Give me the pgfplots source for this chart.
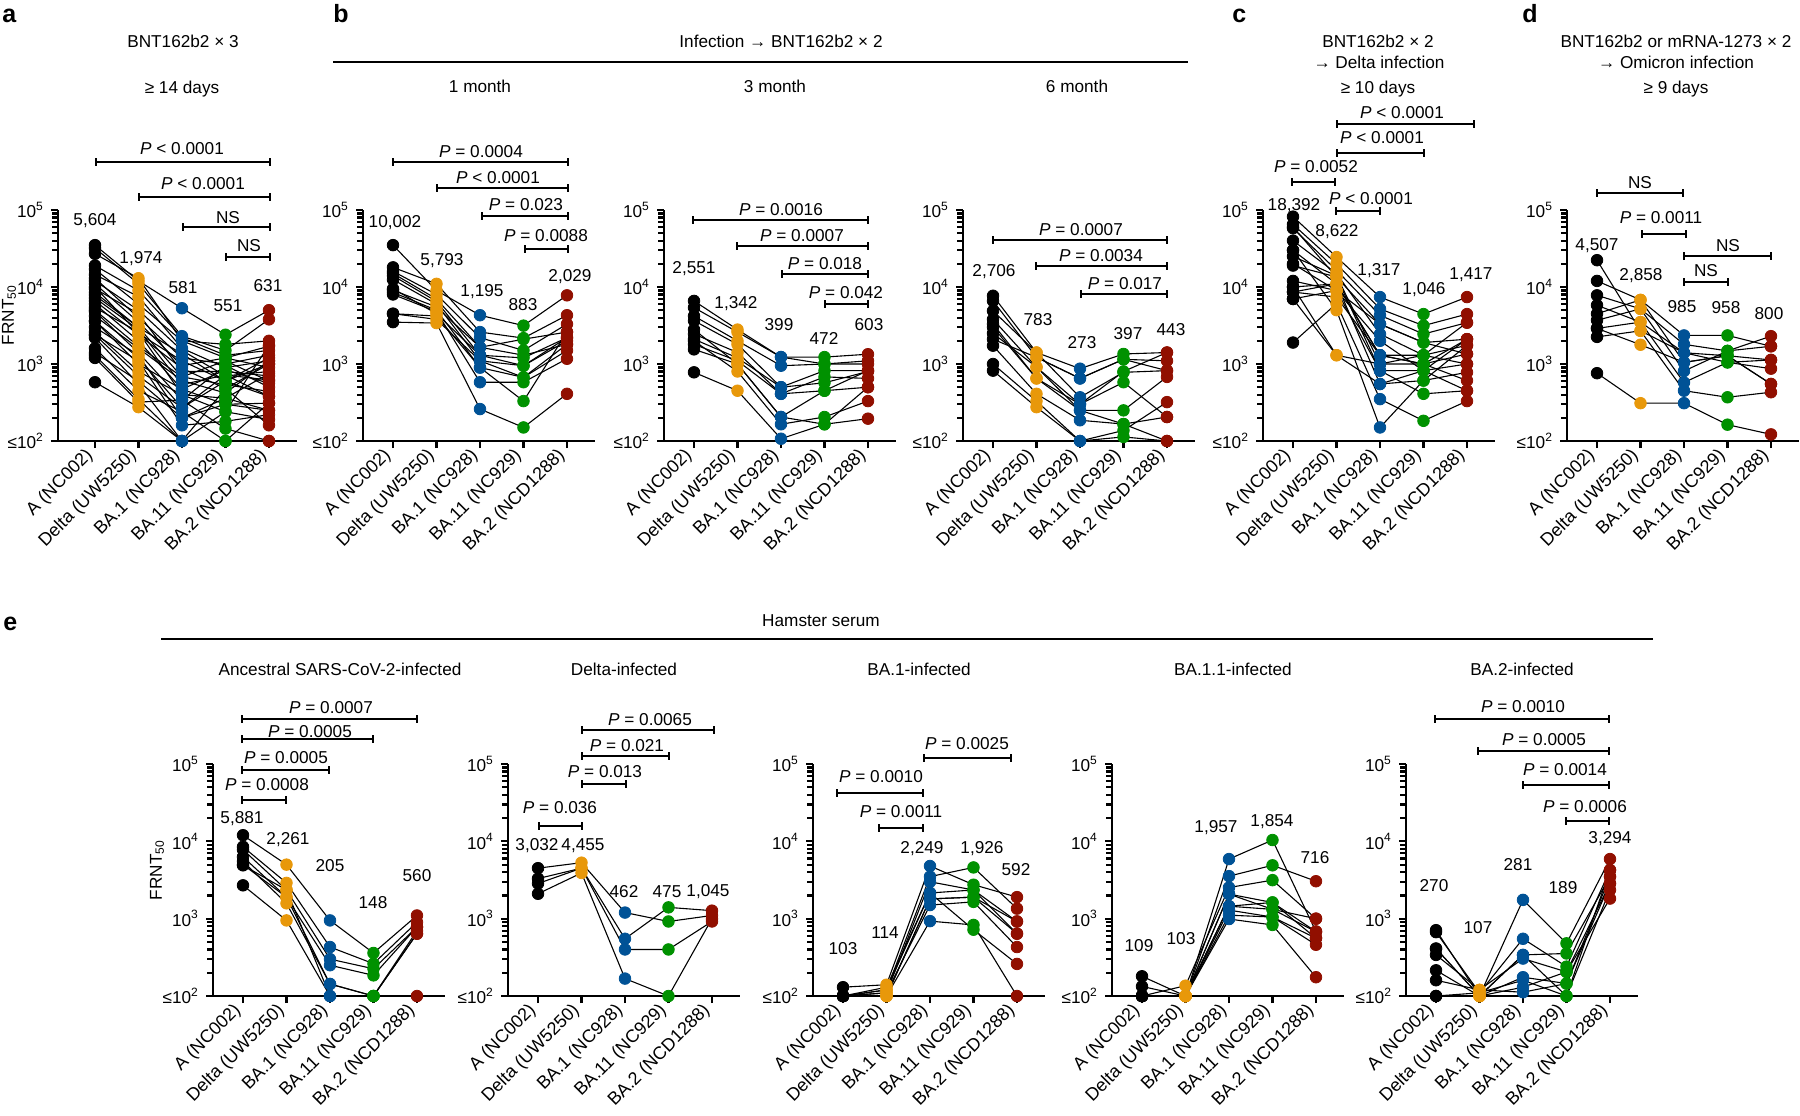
\documentclass[border=0pt]{standalone}
\usepackage{fontspec}
\setmainfont{Liberation Sans}
\usepackage{pgfplots}
\usepackage{pgfplotstable}
\pgfplotsset{compat=1.18}

\definecolor{cA}{RGB}{0,0,0}
\definecolor{cD}{RGB}{232,152,10}
\definecolor{cB}{RGB}{0,82,150}
\definecolor{cG}{RGB}{0,145,0}
\definecolor{cR}{RGB}{145,15,0}

\newcommand{\figfont}{\fontsize{8.6}{10}\selectfont}
\newcommand{\xfont}{\fontsize{9}{10}\selectfont}

\newcommand{\panel}[6]{%
\begin{semilogyaxis}[scale only axis, anchor=south west, at={(#1*0.5pt,-#2*0.5pt)},
    xmin=#3, xmax=4.64, width=#4, height=#5,
    ymin=100, ymax=100000,
    axis lines=left, axis line style={line width=1.1pt, -},
    xtick={0,1,2,3,4},
    xticklabels={A (NC002), Delta (UW5250), BA.1 (NC928), BA.11 (NC929), BA.2 (NCD1288)},
    ytick={100,1000,10000,100000},
    yticklabels={≤10\textsuperscript{2}, 10\textsuperscript{3}, 10\textsuperscript{4}, 10\textsuperscript{5}},
    tick align=outside, major tick length=3.5pt,
    tick style={black, line width=1.1pt},
    yticklabel style={font=\figfont},
    xticklabel style={font=\xfont, rotate=45, anchor=east},
    clip=false]
#6
\end{semilogyaxis}}

\newcommand{\drawsubj}[2]{%
  \pgfplotsinvokeforeach{1,...,#2}{\addplot[black, line width=0.55pt, mark=none, forget plot] table[x expr=\coordindex, y index=##1]{#1};}}
\newcommand{\drawdots}[1]{%
  \addplot[only marks, mark=*, mark size=2.9pt, forget plot, cA] table[x expr=0, y=A]{#1};
  \addplot[only marks, mark=*, mark size=2.9pt, forget plot, cD] table[x expr=1, y=D]{#1};
  \addplot[only marks, mark=*, mark size=2.9pt, forget plot, cB] table[x expr=2, y=Ba]{#1};
  \addplot[only marks, mark=*, mark size=2.9pt, forget plot, cG] table[x expr=3, y=Bb]{#1};
  \addplot[only marks, mark=*, mark size=2.9pt, forget plot, cR] table[x expr=4, y=Bc]{#1};}
\newcommand{\lbl}[3]{\node[anchor=base, font=\figfont, inner sep=0pt] at (#1,#2) {#3};}
\newcommand{\brk}[3]{\draw[line width=1pt] (#1,#3-4) -- (#1,#3+4) (#1,#3) -- (#2,#3) (#2,#3-4) -- (#2,#3+4);}
\newcommand{\Pe}{\textit{P} = }
\newcommand{\Pl}{\textit{P} < }

\pgfplotstableread{
A D Ba Bb Bc
35000 12000 5300 2400 5000
32000 11000 2300 1500 3800
27000 13000 2000 1800 2000
19000 9000 2200 1300 1500
17000 6000 2000 1200 1700
14500 7500 1600 900 1100
13000 4000 1200 1000 1300
12000 5000 1500 700 800
11000 3500 950 1200 900
10000 2500 1100 600 1000
9500 4500 800 800 700
8500 3000 680 1100 600
7800 3000 1350 600 1200
7200 2800 540 720 620
6600 2400 880 480 1000
6000 2000 470 840 560
5400 2600 400 360 750
5000 1700 680 540 440
4800 1400 340 960 500
4200 1600 610 420 1100
3600 1200 270 600 380
3600 1000 470 300 310
3000 1300 200 360 250
2600 800 400 240 1750
2400 700 270 720 380
2400 1100 160 180 220
2200 550 100 240 190
1600 450 240 100 310
1300 350 100 480 160
1200 320 340 145 100
580 275 100 100 100
1400 600 200 300 250
}\tA
\pgfplotstableread{
A D Ba Bb Bc
35000 9000 4300 3150 7800
18000 11000 2600 2170 4300
16000 8000 2200 1500 3300
15000 7000 1650 2100 2600
14000 6500 1300 1200 2200
12500 6000 1100 950 2000
9100 5500 1650 1300 1800
8500 5000 900 670 1500
9500 4500 1300 950 2200
8000 4800 580 580 1170
4500 3800 1100 670 1800
4500 4200 900 330 2600
3500 3400 260 150 410
}\tBa
\pgfplotstableread{
A D Ba Bb Bc
6600 2800 1230 1230 1340
5400 2600 1230 1000 1100
4200 2000 950 1000 1000
3650 1800 500 820 820
2450 1410 410 680 650
2100 1200 500 570 800
1800 1100 410 450 820
1550 1000 205 450 500
2000 800 165 205 330
780 450 107 165 195
2800 1000 205 165 500
}\tBb
\pgfplotstableread{
A D Ba Bb Bc
7700 1410 870 1350 1410
6600 1220 650 1150 1100
4900 1410 370 780 820
3800 910 300 800 1410
3300 650 250 250 680
2100 1220 650 1150 820
1730 410 186 166 205
1000 330 100 137 320
820 275 100 113 100
3000 650 300 580 205
2500 910 250 166 100
}\tBc
\pgfplotstableread{
A D Ba Bb Bc
82000 24500 7400 4450 7400
65000 20000 5200 3150 4450
58000 16500 4300 2450 3450
60000 13500 3300 1900 2100
40000 15000 2450 1300 1750
30000 11000 1300 1000 1350
25000 14000 1000 1000 2100
19000 13500 820 820 1000
12000 9000 3300 1900 1350
10000 11000 550 610 780
8600 11000 1300 1000 610
7000 9000 820 410 450
1900 6100 350 183 330
10000 1300 1000 1300 1000
8600 7400 1300 1300 3450
30000 5000 150 610 1750
20000 9000 2000 820 2100
7000 1300 550 820 450
}\tC
\pgfplotstableread{
A D Ba Bb Bc
22300 2700 1400 1280 1130
12000 6800 2350 2350 1700
7800 5200 1800 1480 2300
5800 3500 1400 1050 870
4500 6800 1050 1280 550
3700 5200 810 1480 1700
2900 3500 575 1050 1130
2250 2700 450 370 430
760 310 310 163 122
2900 1780 1050 1280 550
}\tD
\pgfplotstableread{
A D Ba Bb Bc
12000 5000 950 360 1100
8500 2900 430 262 900
7800 2350 300 225 780
6300 1900 250 185 780
5500 1580 143 100 640
4900 2350 100 100 700
2700 950 100 100 100
5000 1900 143 100 640
}\tEa
\pgfplotstableread{
A D Ba Bb Bc
4500 5300 1200 920 1100
3300 4500 550 1400 1270
2850 4500 400 400 920
2100 3900 168 100 1000
}\tEb
\pgfplotstableread{
A D Ba Bb Bc
130 140 4800 2750 1900
100 120 3500 4600 1350
100 110 3000 2350 920
100 130 2150 2350 640
100 100 1800 1900 920
100 110 1500 1650 430
100 100 930 830 100
100 120 2150 720 260
100 100 1800 1900 640
}\tEc
\pgfplotstableread{
A D Ba Bb Bc
180 100 5900 10400 680
133 100 3550 4900 3050
100 136 2530 3150 1000
100 100 2080 1620 560
100 100 2080 1320 1000
100 100 1450 1320 680
100 100 1290 1050 560
100 100 1110 1050 460
100 100 990 830 175
100 100 1450 1620 680
}\tEd
\pgfplotstableread{
A D Ba Bb Bc
710 100 1750 480 5900
670 110 550 240 4250
410 100 340 355 3500
340 120 305 205 2850
215 100 175 145 3500
100 110 160 100 2350
410 100 130 205 1820
160 120 112 145 2850
100 100 340 100 4250
}\tEe
\pgfplotstabletranspose{\tAT}{\tA}
\pgfplotstabletranspose{\tBaT}{\tBa}
\pgfplotstabletranspose{\tBbT}{\tBb}
\pgfplotstabletranspose{\tBcT}{\tBc}
\pgfplotstabletranspose{\tCT}{\tC}
\pgfplotstabletranspose{\tDT}{\tD}
\pgfplotstabletranspose{\tEaT}{\tEa}
\pgfplotstabletranspose{\tEbT}{\tEb}
\pgfplotstabletranspose{\tEcT}{\tEc}
\pgfplotstabletranspose{\tEdT}{\tEd}
\pgfplotstabletranspose{\tEeT}{\tEe}

\begin{document}%
\begin{tikzpicture}[x=0.5pt, y=-0.5pt]

% ---------- top row ----------
\panel{58}{441}{-0.85}{119.4pt}{115.5pt}{\drawsubj{\tAT}{32}\drawdots{\tA}}
\panel{363}{441}{-0.69}{115.9pt}{115.5pt}{\drawsubj{\tBaT}{13}\drawdots{\tBa}}
\panel{664}{441}{-0.69}{115.9pt}{115.5pt}{\drawsubj{\tBbT}{11}\drawdots{\tBb}}
\panel{963}{441}{-0.69}{115.9pt}{115.5pt}{\drawsubj{\tBcT}{11}\drawdots{\tBc}}
\panel{1263}{441}{-0.69}{115.9pt}{115.5pt}{\drawsubj{\tCT}{18}\drawdots{\tC}}
\panel{1567}{441}{-0.69}{115.9pt}{115.5pt}{\drawsubj{\tDT}{10}\drawdots{\tD}}

% ---------- bottom row ----------
\panel{213}{996}{-0.69}{115.9pt}{116pt}{\drawsubj{\tEaT}{8}\drawdots{\tEa}}
\panel{508}{996}{-0.69}{115.9pt}{116pt}{\drawsubj{\tEbT}{4}\drawdots{\tEb}}
\panel{813}{996}{-0.69}{115.9pt}{116pt}{\drawsubj{\tEcT}{9}\drawdots{\tEc}}
\panel{1112}{996}{-0.69}{115.9pt}{116pt}{\drawsubj{\tEdT}{10}\drawdots{\tEd}}
\panel{1406}{996}{-0.69}{115.9pt}{116pt}{\drawsubj{\tEeT}{9}\drawdots{\tEe}}

% ---------- panel letters ----------
\foreach \l/\x/\y in {a/2/22, b/333/22, c/1232/22, d/1522/22, e/3/630}
  \node[anchor=base west, inner sep=0pt, font=\fontsize{12.5}{14}\selectfont\bfseries] at (\x,\y) {\l};

% ---------- y labels ----------
\node[rotate=90, font=\figfont, inner sep=0pt] at (9,315) {FRNT\textsubscript{50}};
\node[rotate=90, font=\figfont, inner sep=0pt] at (157,870) {FRNT\textsubscript{50}};

% ---------- panel a ----------
\lbl{183}{47}{BNT162b2 × 3}
\lbl{182}{93}{≥ 14 days}
\brk{96}{270}{162}\lbl{182}{154}{\Pl0.0001}
\brk{139}{270}{197}\lbl{203}{189}{\Pl0.0001}
\brk{183}{270}{227}\lbl{228}{223}{NS}
\brk{226}{270}{257}\lbl{249}{251}{NS}
\lbl{95}{225}{5,604}\lbl{141}{263}{1,974}\lbl{183}{293}{581}\lbl{228}{311}{551}\lbl{268}{291}{631}

% ---------- panel b ----------
\lbl{781}{47}{Infection → BNT162b2 × 2}
\draw[line width=0.9pt] (333,62) -- (1188,62);
\lbl{480}{92}{1 month}\lbl{775}{92}{3 month}\lbl{1077}{92}{6 month}
\brk{393}{568}{162}\lbl{481}{157}{\Pe0.0004}
\brk{437}{568}{188}\lbl{498}{183}{\Pl0.0001}
\brk{482}{568}{216}\lbl{526}{210}{\Pe0.023}
\brk{525}{568}{249}\lbl{546}{241}{\Pe0.0088}
\lbl{395}{227}{10,002}\lbl{442}{265}{5,793}\lbl{482}{296}{1,195}\lbl{523}{310}{883}\lbl{570}{281}{2,029}
\brk{693}{868}{220}\lbl{781}{215}{\Pe0.0016}
\brk{737}{868}{246}\lbl{802}{241}{\Pe0.0007}
\brk{782}{868}{274}\lbl{825}{269}{\Pe0.018}
\brk{825}{868}{304}\lbl{846}{298}{\Pe0.042}
\lbl{694}{273}{2,551}\lbl{736}{308}{1,342}\lbl{779}{330}{399}\lbl{824}{344}{472}\lbl{869}{330}{603}
\brk{993}{1167}{240}\lbl{1081}{235}{\Pe0.0007}
\brk{1036}{1167}{266}\lbl{1101}{261}{\Pe0.0034}
\brk{1081}{1167}{294}\lbl{1125}{289}{\Pe0.017}
\lbl{994}{276}{2,706}\lbl{1038}{325}{783}\lbl{1082}{348}{273}\lbl{1128}{339}{397}\lbl{1171}{335}{443}

% ---------- panel c ----------
\lbl{1378}{47}{BNT162b2 × 2}
\lbl{1379}{68}{→ Delta infection}
\lbl{1378}{93}{≥ 10 days}
\brk{1337}{1474}{124}\lbl{1402}{118}{\Pl0.0001}
\brk{1337}{1424}{153}\lbl{1382}{143}{\Pl0.0001}
\brk{1292}{1335}{182}\lbl{1316}{172}{\Pe0.0052}
\brk{1336}{1380}{211}\lbl{1371}{204}{\Pl0.0001}
\lbl{1294}{210}{18,392}\lbl{1337}{236}{8,622}\lbl{1379}{275}{1,317}\lbl{1424}{294}{1,046}\lbl{1471}{279}{1,417}

% ---------- panel d ----------
\lbl{1676}{47}{BNT162b2 or mRNA-1273 × 2}
\lbl{1676}{68}{→ Omicron infection}
\lbl{1676}{93}{≥ 9 days}
\brk{1597}{1683}{193}\lbl{1640}{188}{NS}
\brk{1642}{1686}{234}\lbl{1661}{223}{\Pe0.0011}
\brk{1684}{1771}{256}\lbl{1728}{251}{NS}
\brk{1684}{1728}{282}\lbl{1706}{276}{NS}
\lbl{1597}{250}{4,507}\lbl{1641}{280}{2,858}\lbl{1682}{312}{985}\lbl{1726}{313}{958}\lbl{1769}{319}{800}

% ---------- panel e ----------
\lbl{821}{626}{Hamster serum}
\draw[line width=0.9pt] (161,639) -- (1653,639);
\lbl{340}{675}{Ancestral SARS-CoV-2-infected}
\lbl{624}{675}{Delta-infected}
\lbl{919}{675}{BA.1-infected}
\lbl{1233}{675}{BA.1.1-infected}
\lbl{1522}{675}{BA.2-infected}
\brk{242}{417}{719}\lbl{331}{713}{\Pe0.0007}
\brk{242}{373}{739}\lbl{310}{737}{\Pe0.0005}
\brk{242}{329}{770}\lbl{286}{763}{\Pe0.0005}
\brk{242}{286}{800}\lbl{267}{790}{\Pe0.0008}
\lbl{242}{823}{5,881}\lbl{288}{844}{2,261}\lbl{330}{871}{205}\lbl{373}{908}{148}\lbl{417}{881}{560}
\brk{582}{714}{730}\lbl{650}{725}{\Pe0.0065}
\brk{582}{669}{756}\lbl{627}{751}{\Pe0.021}
\brk{582}{626}{784}\lbl{605}{777}{\Pe0.013}
\brk{539}{582}{826}\lbl{560}{813}{\Pe0.036}
\lbl{537}{850}{3,032}\lbl{583}{850}{4,455}\lbl{624}{897}{462}\lbl{667}{897}{475}\lbl{708}{896}{1,045}
\brk{924}{1011}{758}\lbl{967}{749}{\Pe0.0025}
\brk{837}{923}{793}\lbl{881}{782}{\Pe0.0010}
\brk{879}{923}{828}\lbl{901}{817}{\Pe0.0011}
\lbl{843}{954}{103}\lbl{885}{938}{114}\lbl{922}{853}{2,249}\lbl{982}{853}{1,926}\lbl{1016}{875}{592}
\lbl{1139}{951}{109}\lbl{1181}{944}{103}\lbl{1216}{832}{1,957}\lbl{1272}{826}{1,854}\lbl{1315}{863}{716}
\brk{1435}{1609}{719}\lbl{1523}{712}{\Pe0.0010}
\brk{1478}{1609}{751}\lbl{1544}{745}{\Pe0.0005}
\brk{1523}{1609}{785}\lbl{1565}{775}{\Pe0.0014}
\brk{1566}{1609}{821}\lbl{1585}{812}{\Pe0.0006}
\lbl{1434}{891}{270}\lbl{1478}{933}{107}\lbl{1518}{870}{281}\lbl{1563}{893}{189}\lbl{1610}{843}{3,294}

\pgfresetboundingbox
\useasboundingbox (0,0) rectangle (1800,1115);
\end{tikzpicture}%
\end{document}
